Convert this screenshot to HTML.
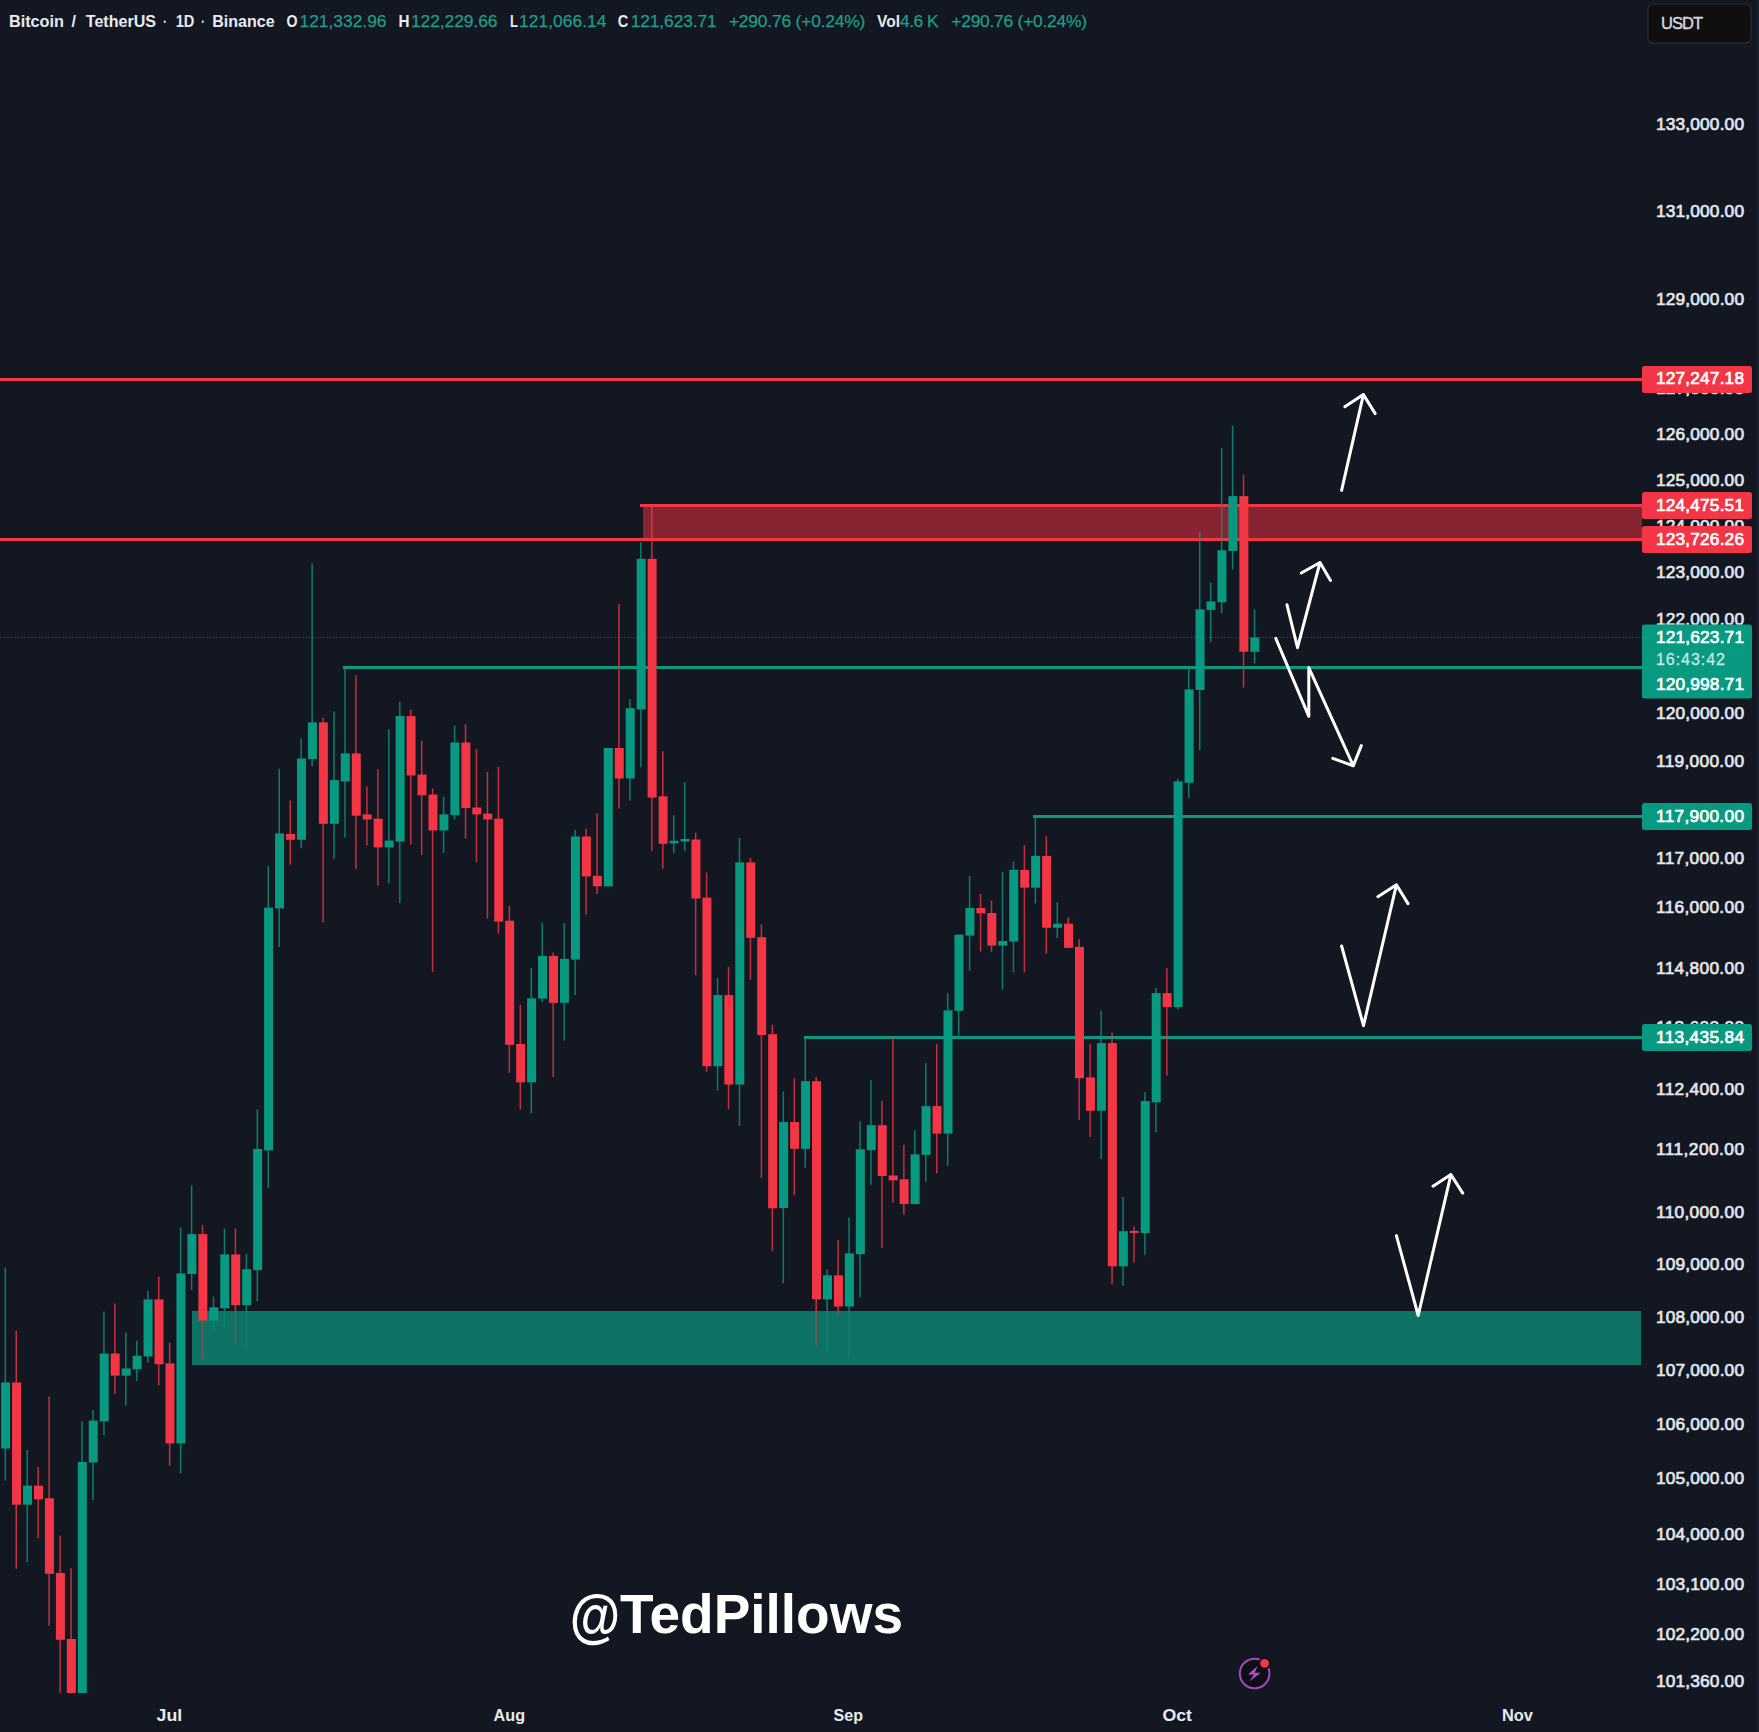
<!DOCTYPE html><html><head><meta charset="utf-8"><title>BTCUSDT chart</title><style>html,body{margin:0;padding:0;background:#131722;}body{width:1759px;height:1732px;overflow:hidden;}svg{display:block;}text{font-family:"Liberation Sans",sans-serif;}</style></head><body>
<svg width="1759" height="1732" viewBox="0 0 1759 1732">
<rect width="1759" height="1732" fill="#131722"/>
<rect x="1757" y="0" width="2" height="1732" fill="#1b1f2d"/>
<g shape-rendering="crispEdges">
<rect x="192" y="1311" width="1449" height="54" fill="#0e7364"/>
<rect x="643" y="506" width="999" height="33" fill="#872431"/>
<rect x="0" y="378" width="1642" height="3" fill="#f23645"/>
<rect x="640" y="504" width="1002" height="3" fill="#f23645"/>
<rect x="0" y="538" width="1642" height="3" fill="#f23645"/>
<rect x="342.5" y="666.4" width="1299.5" height="3" fill="#089981"/>
<rect x="1033.2" y="814.6" width="609" height="3" fill="#089981"/>
<rect x="804" y="1036" width="838" height="3" fill="#089981"/>
</g>
<line x1="0" y1="637.5" x2="1642" y2="637.5" stroke="#089981" stroke-width="1" stroke-dasharray="1 2" opacity="0.65"/>
<g>
<rect x="4.55" y="1267.6" width="1.5" height="212.9" fill="#089981" opacity="0.8"/>
<rect x="15.51" y="1330.6" width="1.5" height="238.1" fill="#f23645" opacity="0.8"/>
<rect x="26.47" y="1450.0" width="1.5" height="112.3" fill="#089981" opacity="0.8"/>
<rect x="37.42" y="1467.0" width="1.5" height="71.2" fill="#f23645" opacity="0.8"/>
<rect x="48.38" y="1396.4" width="1.5" height="229.5" fill="#f23645" opacity="0.8"/>
<rect x="59.34" y="1535.7" width="1.5" height="157.3" fill="#f23645" opacity="0.8"/>
<rect x="70.3" y="1568.2" width="1.5" height="124.8" fill="#f23645" opacity="0.8"/>
<rect x="81.26" y="1421.3" width="1.5" height="271.7" fill="#089981" opacity="0.8"/>
<rect x="92.21" y="1409.9" width="1.5" height="90.2" fill="#089981" opacity="0.8"/>
<rect x="103.17" y="1311.6" width="1.5" height="123.7" fill="#089981" opacity="0.8"/>
<rect x="114.13" y="1303.7" width="1.5" height="90.4" fill="#f23645" opacity="0.8"/>
<rect x="125.09" y="1332.4" width="1.5" height="73.2" fill="#089981" opacity="0.8"/>
<rect x="136.05" y="1340.8" width="1.5" height="39.9" fill="#089981" opacity="0.8"/>
<rect x="147.0" y="1290.5" width="1.5" height="71.9" fill="#089981" opacity="0.8"/>
<rect x="157.96" y="1276.5" width="1.5" height="108.8" fill="#f23645" opacity="0.8"/>
<rect x="168.92" y="1342.6" width="1.5" height="123.2" fill="#f23645" opacity="0.8"/>
<rect x="179.88" y="1227.7" width="1.5" height="245.7" fill="#089981" opacity="0.8"/>
<rect x="190.84" y="1185.3" width="1.5" height="104.7" fill="#089981" opacity="0.8"/>
<rect x="201.79" y="1225.2" width="1.5" height="86.0" fill="#f23645" opacity="0.8"/>
<rect x="201.79" y="1311.2" width="1.5" height="47.4" fill="#f23645" opacity="0.44"/>
<rect x="212.75" y="1296.3" width="1.5" height="14.9" fill="#089981" opacity="0.8"/>
<rect x="212.75" y="1311.2" width="1.5" height="19.8" fill="#089981" opacity="0.44"/>
<rect x="223.71" y="1228.3" width="1.5" height="82.9" fill="#089981" opacity="0.8"/>
<rect x="223.71" y="1311.2" width="1.5" height="16.1" fill="#089981" opacity="0.44"/>
<rect x="234.67" y="1228.3" width="1.5" height="82.9" fill="#f23645" opacity="0.8"/>
<rect x="234.67" y="1311.2" width="1.5" height="32.1" fill="#f23645" opacity="0.44"/>
<rect x="245.63" y="1253.9" width="1.5" height="57.3" fill="#089981" opacity="0.8"/>
<rect x="245.63" y="1311.2" width="1.5" height="37.8" fill="#089981" opacity="0.44"/>
<rect x="256.58" y="1109.6" width="1.5" height="191.8" fill="#089981" opacity="0.8"/>
<rect x="267.54" y="866.0" width="1.5" height="321.9" fill="#089981" opacity="0.8"/>
<rect x="278.5" y="768.7" width="1.5" height="178.3" fill="#089981" opacity="0.8"/>
<rect x="289.46" y="800.4" width="1.5" height="64.3" fill="#f23645" opacity="0.8"/>
<rect x="300.42" y="738.9" width="1.5" height="109.3" fill="#089981" opacity="0.8"/>
<rect x="311.37" y="563.4" width="1.5" height="202.7" fill="#089981" opacity="0.8"/>
<rect x="322.33" y="717.8" width="1.5" height="204.6" fill="#f23645" opacity="0.8"/>
<rect x="333.29" y="711.5" width="1.5" height="147.4" fill="#089981" opacity="0.8"/>
<rect x="344.25" y="667.0" width="1.5" height="170.3" fill="#089981" opacity="0.8"/>
<rect x="355.21" y="675.2" width="1.5" height="193.8" fill="#f23645" opacity="0.8"/>
<rect x="366.16" y="786.4" width="1.5" height="59.2" fill="#f23645" opacity="0.8"/>
<rect x="377.12" y="769.4" width="1.5" height="116.1" fill="#f23645" opacity="0.8"/>
<rect x="388.08" y="729.3" width="1.5" height="154.2" fill="#089981" opacity="0.8"/>
<rect x="399.04" y="701.8" width="1.5" height="201.5" fill="#089981" opacity="0.8"/>
<rect x="410.0" y="709.7" width="1.5" height="134.7" fill="#f23645" opacity="0.8"/>
<rect x="420.95" y="740.7" width="1.5" height="114.3" fill="#f23645" opacity="0.8"/>
<rect x="431.91" y="788.5" width="1.5" height="183.4" fill="#f23645" opacity="0.8"/>
<rect x="442.87" y="796.6" width="1.5" height="56.4" fill="#089981" opacity="0.8"/>
<rect x="453.83" y="725.5" width="1.5" height="94.0" fill="#089981" opacity="0.8"/>
<rect x="464.79" y="724.2" width="1.5" height="114.3" fill="#f23645" opacity="0.8"/>
<rect x="475.74" y="749.1" width="1.5" height="113.1" fill="#f23645" opacity="0.8"/>
<rect x="486.7" y="772.0" width="1.5" height="146.6" fill="#f23645" opacity="0.8"/>
<rect x="497.66" y="766.9" width="1.5" height="166.9" fill="#f23645" opacity="0.8"/>
<rect x="508.62" y="905.8" width="1.5" height="167.0" fill="#f23645" opacity="0.8"/>
<rect x="519.58" y="1004.7" width="1.5" height="104.9" fill="#f23645" opacity="0.8"/>
<rect x="530.53" y="968.0" width="1.5" height="145.4" fill="#089981" opacity="0.8"/>
<rect x="541.49" y="922.7" width="1.5" height="79.7" fill="#089981" opacity="0.8"/>
<rect x="552.45" y="952.5" width="1.5" height="124.5" fill="#f23645" opacity="0.8"/>
<rect x="563.41" y="922.9" width="1.5" height="117.6" fill="#089981" opacity="0.8"/>
<rect x="574.37" y="829.9" width="1.5" height="165.1" fill="#089981" opacity="0.8"/>
<rect x="585.32" y="828.6" width="1.5" height="85.9" fill="#f23645" opacity="0.8"/>
<rect x="596.28" y="813.4" width="1.5" height="80.6" fill="#f23645" opacity="0.8"/>
<rect x="607.24" y="748.0" width="1.5" height="138.4" fill="#089981" opacity="0.8"/>
<rect x="618.2" y="604.0" width="1.5" height="204.5" fill="#f23645" opacity="0.8"/>
<rect x="629.16" y="699.0" width="1.5" height="101.6" fill="#089981" opacity="0.8"/>
<rect x="640.11" y="542.2" width="1.5" height="224.9" fill="#089981" opacity="0.8"/>
<rect x="651.07" y="505.4" width="1.5" height="345.5" fill="#f23645" opacity="0.8"/>
<rect x="662.03" y="751.3" width="1.5" height="117.4" fill="#f23645" opacity="0.8"/>
<rect x="672.99" y="815.4" width="1.5" height="37.6" fill="#089981" opacity="0.8"/>
<rect x="683.95" y="782.3" width="1.5" height="68.6" fill="#089981" opacity="0.8"/>
<rect x="694.9" y="832.6" width="1.5" height="142.7" fill="#f23645" opacity="0.8"/>
<rect x="705.86" y="872.5" width="1.5" height="199.3" fill="#f23645" opacity="0.8"/>
<rect x="716.82" y="977.8" width="1.5" height="112.6" fill="#089981" opacity="0.8"/>
<rect x="727.78" y="966.9" width="1.5" height="142.5" fill="#f23645" opacity="0.8"/>
<rect x="738.74" y="837.7" width="1.5" height="288.2" fill="#089981" opacity="0.8"/>
<rect x="749.69" y="857.8" width="1.5" height="122.0" fill="#f23645" opacity="0.8"/>
<rect x="760.65" y="924.5" width="1.5" height="253.3" fill="#f23645" opacity="0.8"/>
<rect x="771.61" y="1024.8" width="1.5" height="226.1" fill="#f23645" opacity="0.8"/>
<rect x="782.57" y="1091.4" width="1.5" height="191.7" fill="#089981" opacity="0.8"/>
<rect x="793.53" y="1078.2" width="1.5" height="117.1" fill="#f23645" opacity="0.8"/>
<rect x="804.48" y="1037.5" width="1.5" height="130.4" fill="#089981" opacity="0.8"/>
<rect x="815.44" y="1076.9" width="1.5" height="234.3" fill="#f23645" opacity="0.8"/>
<rect x="815.44" y="1311.2" width="1.5" height="35.1" fill="#f23645" opacity="0.44"/>
<rect x="826.4" y="1269.3" width="1.5" height="41.9" fill="#089981" opacity="0.8"/>
<rect x="826.4" y="1311.2" width="1.5" height="40.9" fill="#089981" opacity="0.44"/>
<rect x="837.36" y="1240.0" width="1.5" height="71.2" fill="#f23645" opacity="0.8"/>
<rect x="837.36" y="1311.2" width="1.5" height="3.8" fill="#f23645" opacity="0.44"/>
<rect x="848.32" y="1217.5" width="1.5" height="93.7" fill="#089981" opacity="0.8"/>
<rect x="848.32" y="1311.2" width="1.5" height="47.6" fill="#089981" opacity="0.44"/>
<rect x="859.27" y="1121.4" width="1.5" height="175.7" fill="#089981" opacity="0.8"/>
<rect x="870.23" y="1080.2" width="1.5" height="104.5" fill="#089981" opacity="0.8"/>
<rect x="881.19" y="1101.0" width="1.5" height="147.0" fill="#f23645" opacity="0.8"/>
<rect x="892.15" y="1037.5" width="1.5" height="165.1" fill="#f23645" opacity="0.8"/>
<rect x="903.11" y="1144.7" width="1.5" height="70.0" fill="#f23645" opacity="0.8"/>
<rect x="914.06" y="1130.3" width="1.5" height="73.8" fill="#089981" opacity="0.8"/>
<rect x="925.02" y="1062.9" width="1.5" height="118.7" fill="#089981" opacity="0.8"/>
<rect x="935.98" y="1043.9" width="1.5" height="129.5" fill="#f23645" opacity="0.8"/>
<rect x="946.94" y="993.1" width="1.5" height="172.7" fill="#089981" opacity="0.8"/>
<rect x="957.9" y="934.6" width="1.5" height="100.9" fill="#089981" opacity="0.8"/>
<rect x="968.85" y="875.7" width="1.5" height="95.1" fill="#089981" opacity="0.8"/>
<rect x="979.81" y="893.7" width="1.5" height="58.0" fill="#f23645" opacity="0.8"/>
<rect x="990.77" y="900.5" width="1.5" height="51.2" fill="#f23645" opacity="0.8"/>
<rect x="1001.73" y="871.9" width="1.5" height="117.4" fill="#089981" opacity="0.8"/>
<rect x="1012.69" y="861.7" width="1.5" height="110.6" fill="#089981" opacity="0.8"/>
<rect x="1023.64" y="845.2" width="1.5" height="127.1" fill="#f23645" opacity="0.8"/>
<rect x="1034.6" y="816.5" width="1.5" height="87.2" fill="#089981" opacity="0.8"/>
<rect x="1045.56" y="836.3" width="1.5" height="117.4" fill="#f23645" opacity="0.8"/>
<rect x="1056.52" y="902.4" width="1.5" height="35.6" fill="#089981" opacity="0.8"/>
<rect x="1067.48" y="917.4" width="1.5" height="30.5" fill="#f23645" opacity="0.8"/>
<rect x="1078.43" y="939.2" width="1.5" height="180.9" fill="#f23645" opacity="0.8"/>
<rect x="1089.39" y="1043.9" width="1.5" height="93.2" fill="#f23645" opacity="0.8"/>
<rect x="1100.35" y="1010.9" width="1.5" height="148.1" fill="#089981" opacity="0.8"/>
<rect x="1111.31" y="1032.5" width="1.5" height="252.0" fill="#f23645" opacity="0.8"/>
<rect x="1122.27" y="1197.0" width="1.5" height="88.8" fill="#089981" opacity="0.8"/>
<rect x="1133.22" y="1226.5" width="1.5" height="36.0" fill="#f23645" opacity="0.8"/>
<rect x="1144.18" y="1092.2" width="1.5" height="162.8" fill="#089981" opacity="0.8"/>
<rect x="1155.14" y="988.0" width="1.5" height="144.3" fill="#089981" opacity="0.8"/>
<rect x="1166.1" y="968.2" width="1.5" height="107.5" fill="#f23645" opacity="0.8"/>
<rect x="1177.06" y="778.9" width="1.5" height="230.7" fill="#089981" opacity="0.8"/>
<rect x="1188.01" y="668.4" width="1.5" height="129.6" fill="#089981" opacity="0.8"/>
<rect x="1198.97" y="531.7" width="1.5" height="218.5" fill="#089981" opacity="0.8"/>
<rect x="1209.93" y="582.5" width="1.5" height="59.7" fill="#089981" opacity="0.8"/>
<rect x="1220.89" y="448.1" width="1.5" height="165.1" fill="#089981" opacity="0.8"/>
<rect x="1231.85" y="425.7" width="1.5" height="143.6" fill="#089981" opacity="0.8"/>
<rect x="1242.8" y="474.8" width="1.5" height="212.6" fill="#f23645" opacity="0.8"/>
<rect x="1253.76" y="609.4" width="1.5" height="53.9" fill="#089981" opacity="0.8"/>
<rect x="1.1" y="1382.5" width="9" height="66.0" fill="#089981"/>
<rect x="12.06" y="1382.5" width="9" height="122.2" fill="#f23645"/>
<rect x="23.02" y="1485.6" width="9" height="19.1" fill="#089981"/>
<rect x="33.97" y="1485.6" width="9" height="13.7" fill="#f23645"/>
<rect x="44.93" y="1498.3" width="9" height="75.5" fill="#f23645"/>
<rect x="55.89" y="1573.0" width="9" height="66.8" fill="#f23645"/>
<rect x="66.85" y="1639.0" width="9" height="54.0" fill="#f23645"/>
<rect x="77.81" y="1462.0" width="9" height="231.0" fill="#089981"/>
<rect x="88.76" y="1420.6" width="9" height="41.9" fill="#089981"/>
<rect x="99.72" y="1353.5" width="9" height="67.8" fill="#089981"/>
<rect x="110.68" y="1353.5" width="9" height="22.1" fill="#f23645"/>
<rect x="121.64" y="1368.5" width="9" height="7.1" fill="#089981"/>
<rect x="132.6" y="1355.8" width="9" height="13.4" fill="#089981"/>
<rect x="143.55" y="1299.4" width="9" height="57.1" fill="#089981"/>
<rect x="154.51" y="1299.4" width="9" height="64.8" fill="#f23645"/>
<rect x="165.47" y="1363.4" width="9" height="80.0" fill="#f23645"/>
<rect x="176.43" y="1273.5" width="9" height="169.9" fill="#089981"/>
<rect x="187.39" y="1234.1" width="9" height="39.9" fill="#089981"/>
<rect x="198.34" y="1234.1" width="9" height="86.4" fill="#f23645"/>
<rect x="209.3" y="1307.3" width="9" height="13.2" fill="#089981"/>
<rect x="220.26" y="1254.4" width="9" height="53.9" fill="#089981"/>
<rect x="231.22" y="1254.4" width="9" height="50.8" fill="#f23645"/>
<rect x="242.18" y="1269.2" width="9" height="36.0" fill="#089981"/>
<rect x="253.13" y="1149.0" width="9" height="121.2" fill="#089981"/>
<rect x="264.09" y="907.6" width="9" height="242.7" fill="#089981"/>
<rect x="275.05" y="833.4" width="9" height="75.0" fill="#089981"/>
<rect x="286.01" y="834.0" width="9" height="5.8" fill="#f23645"/>
<rect x="296.97" y="758.5" width="9" height="81.3" fill="#089981"/>
<rect x="307.92" y="722.4" width="9" height="36.6" fill="#089981"/>
<rect x="318.88" y="722.4" width="9" height="101.4" fill="#f23645"/>
<rect x="329.84" y="780.1" width="9" height="43.7" fill="#089981"/>
<rect x="340.8" y="753.4" width="9" height="28.0" fill="#089981"/>
<rect x="351.76" y="753.4" width="9" height="62.3" fill="#f23645"/>
<rect x="362.71" y="814.4" width="9" height="5.1" fill="#f23645"/>
<rect x="373.67" y="818.7" width="9" height="28.7" fill="#f23645"/>
<rect x="384.63" y="840.6" width="9" height="6.8" fill="#089981"/>
<rect x="395.59" y="716.1" width="9" height="125.5" fill="#089981"/>
<rect x="406.55" y="716.1" width="9" height="59.4" fill="#f23645"/>
<rect x="417.5" y="774.5" width="9" height="20.8" fill="#f23645"/>
<rect x="428.46" y="794.6" width="9" height="35.8" fill="#f23645"/>
<rect x="439.42" y="814.4" width="9" height="16.0" fill="#089981"/>
<rect x="450.38" y="742.5" width="9" height="72.7" fill="#089981"/>
<rect x="461.34" y="742.5" width="9" height="65.5" fill="#f23645"/>
<rect x="472.29" y="807.5" width="9" height="6.9" fill="#f23645"/>
<rect x="483.25" y="813.6" width="9" height="5.9" fill="#f23645"/>
<rect x="494.21" y="818.7" width="9" height="102.9" fill="#f23645"/>
<rect x="505.17" y="920.7" width="9" height="124.1" fill="#f23645"/>
<rect x="516.13" y="1044.0" width="9" height="38.4" fill="#f23645"/>
<rect x="527.08" y="998.3" width="9" height="84.1" fill="#089981"/>
<rect x="538.04" y="955.9" width="9" height="42.7" fill="#089981"/>
<rect x="549.0" y="955.9" width="9" height="47.0" fill="#f23645"/>
<rect x="559.96" y="958.9" width="9" height="43.9" fill="#089981"/>
<rect x="570.92" y="836.5" width="9" height="123.0" fill="#089981"/>
<rect x="581.87" y="836.5" width="9" height="39.9" fill="#f23645"/>
<rect x="592.83" y="875.8" width="9" height="10.5" fill="#f23645"/>
<rect x="603.79" y="748.0" width="9" height="138.4" fill="#089981"/>
<rect x="614.75" y="748.0" width="9" height="30.5" fill="#f23645"/>
<rect x="625.71" y="708.2" width="9" height="70.3" fill="#089981"/>
<rect x="636.66" y="558.8" width="9" height="150.6" fill="#089981"/>
<rect x="647.62" y="558.8" width="9" height="238.8" fill="#f23645"/>
<rect x="658.58" y="796.3" width="9" height="47.5" fill="#f23645"/>
<rect x="669.54" y="840.8" width="9" height="2.5" fill="#089981"/>
<rect x="680.5" y="839.0" width="9" height="2.5" fill="#089981"/>
<rect x="691.45" y="839.5" width="9" height="59.0" fill="#f23645"/>
<rect x="702.41" y="897.6" width="9" height="168.6" fill="#f23645"/>
<rect x="713.37" y="995.1" width="9" height="71.1" fill="#089981"/>
<rect x="724.33" y="995.1" width="9" height="89.4" fill="#f23645"/>
<rect x="735.29" y="862.4" width="9" height="222.1" fill="#089981"/>
<rect x="746.24" y="862.4" width="9" height="75.5" fill="#f23645"/>
<rect x="757.2" y="937.2" width="9" height="97.8" fill="#f23645"/>
<rect x="768.16" y="1034.2" width="9" height="174.1" fill="#f23645"/>
<rect x="779.12" y="1122.1" width="9" height="85.9" fill="#089981"/>
<rect x="790.08" y="1122.1" width="9" height="26.7" fill="#f23645"/>
<rect x="801.03" y="1081.2" width="9" height="67.6" fill="#089981"/>
<rect x="811.99" y="1081.2" width="9" height="218.2" fill="#f23645"/>
<rect x="822.95" y="1275.3" width="9" height="24.1" fill="#089981"/>
<rect x="833.91" y="1275.3" width="9" height="31.2" fill="#f23645"/>
<rect x="844.87" y="1253.4" width="9" height="53.1" fill="#089981"/>
<rect x="855.82" y="1149.3" width="9" height="104.9" fill="#089981"/>
<rect x="866.78" y="1125.2" width="9" height="24.9" fill="#089981"/>
<rect x="877.74" y="1125.2" width="9" height="50.8" fill="#f23645"/>
<rect x="888.7" y="1175.5" width="9" height="4.8" fill="#f23645"/>
<rect x="899.66" y="1179.3" width="9" height="24.8" fill="#f23645"/>
<rect x="910.61" y="1154.4" width="9" height="49.7" fill="#089981"/>
<rect x="921.57" y="1106.1" width="9" height="48.8" fill="#089981"/>
<rect x="932.53" y="1106.1" width="9" height="27.5" fill="#f23645"/>
<rect x="943.49" y="1010.3" width="9" height="123.3" fill="#089981"/>
<rect x="954.45" y="934.6" width="9" height="76.2" fill="#089981"/>
<rect x="965.4" y="908.0" width="9" height="27.6" fill="#089981"/>
<rect x="976.36" y="908.0" width="9" height="5.3" fill="#f23645"/>
<rect x="987.32" y="913.0" width="9" height="32.6" fill="#f23645"/>
<rect x="998.28" y="941.0" width="9" height="4.6" fill="#089981"/>
<rect x="1009.24" y="869.9" width="9" height="71.6" fill="#089981"/>
<rect x="1020.19" y="869.9" width="9" height="17.8" fill="#f23645"/>
<rect x="1031.15" y="855.9" width="9" height="31.8" fill="#089981"/>
<rect x="1042.11" y="855.9" width="9" height="71.9" fill="#f23645"/>
<rect x="1053.07" y="923.7" width="9" height="4.1" fill="#089981"/>
<rect x="1064.03" y="923.7" width="9" height="24.2" fill="#f23645"/>
<rect x="1074.98" y="946.9" width="9" height="131.3" fill="#f23645"/>
<rect x="1085.94" y="1077.4" width="9" height="33.3" fill="#f23645"/>
<rect x="1096.9" y="1043.1" width="9" height="67.6" fill="#089981"/>
<rect x="1107.86" y="1043.1" width="9" height="223.2" fill="#f23645"/>
<rect x="1118.82" y="1231.2" width="9" height="35.1" fill="#089981"/>
<rect x="1129.77" y="1230.9" width="9" height="2.0" fill="#f23645"/>
<rect x="1140.73" y="1101.1" width="9" height="132.0" fill="#089981"/>
<rect x="1151.69" y="993.1" width="9" height="109.2" fill="#089981"/>
<rect x="1162.65" y="993.1" width="9" height="14.0" fill="#f23645"/>
<rect x="1173.61" y="781.4" width="9" height="225.7" fill="#089981"/>
<rect x="1184.56" y="689.5" width="9" height="93.2" fill="#089981"/>
<rect x="1195.52" y="609.4" width="9" height="80.6" fill="#089981"/>
<rect x="1206.48" y="601.5" width="9" height="8.4" fill="#089981"/>
<rect x="1217.44" y="550.2" width="9" height="52.1" fill="#089981"/>
<rect x="1228.4" y="496.1" width="9" height="54.9" fill="#089981"/>
<rect x="1239.35" y="496.1" width="9" height="155.7" fill="#f23645"/>
<rect x="1250.31" y="637.4" width="9" height="14.4" fill="#089981"/>
</g>
<path d="M1341.6 490.4 L1363.4 394.6 M1344.8 406.8 L1363.4 394.6 L1375.2 413.6" fill="none" stroke="#ffffff" stroke-width="3" stroke-linecap="round" stroke-linejoin="round"/>
<path d="M1287 604.8 L1297.5 647.7 L1320 562.5 M1301.3 573 L1320 562.5 L1330.5 580.5" fill="none" stroke="#ffffff" stroke-width="3" stroke-linecap="round" stroke-linejoin="round"/>
<path d="M1275.8 638.3 L1308.8 716.3 L1308.8 667.6 L1353.3 765.8 M1332.8 758.3 L1353.3 765.8 L1361.3 745.6" fill="none" stroke="#ffffff" stroke-width="3" stroke-linecap="round" stroke-linejoin="round"/>
<path d="M1341.6 946 L1363.5 1025.7 L1396.4 884.8 M1377.9 896.7 L1396.4 884.8 L1408 903.6" fill="none" stroke="#ffffff" stroke-width="3" stroke-linecap="round" stroke-linejoin="round"/>
<path d="M1396.4 1235.6 L1418.2 1315.5 L1450.9 1174.6 M1433 1186.2 L1450.9 1174.6 L1462.7 1193.1" fill="none" stroke="#ffffff" stroke-width="3" stroke-linecap="round" stroke-linejoin="round"/>
<text x="1656" y="129.7" font-size="17.3" font-weight="normal" fill="#e4e6ec" stroke="#e4e6ec" stroke-width="0.7" textLength="88" lengthAdjust="spacing">133,000.00</text>
<text x="1656" y="217.2" font-size="17.3" font-weight="normal" fill="#e4e6ec" stroke="#e4e6ec" stroke-width="0.7" textLength="88" lengthAdjust="spacing">131,000.00</text>
<text x="1656" y="305.3" font-size="17.3" font-weight="normal" fill="#e4e6ec" stroke="#e4e6ec" stroke-width="0.7" textLength="88" lengthAdjust="spacing">129,000.00</text>
<text x="1656" y="394.3" font-size="17.3" font-weight="normal" fill="#e4e6ec" stroke="#e4e6ec" stroke-width="0.7" textLength="88" lengthAdjust="spacing">127,000.00</text>
<text x="1656" y="440.0" font-size="17.3" font-weight="normal" fill="#e4e6ec" stroke="#e4e6ec" stroke-width="0.7" textLength="88" lengthAdjust="spacing">126,000.00</text>
<text x="1656" y="485.5" font-size="17.3" font-weight="normal" fill="#e4e6ec" stroke="#e4e6ec" stroke-width="0.7" textLength="88" lengthAdjust="spacing">125,000.00</text>
<text x="1656" y="531.8" font-size="17.3" font-weight="normal" fill="#e4e6ec" stroke="#e4e6ec" stroke-width="0.7" textLength="88" lengthAdjust="spacing">124,000.00</text>
<text x="1656" y="577.5" font-size="17.3" font-weight="normal" fill="#e4e6ec" stroke="#e4e6ec" stroke-width="0.7" textLength="88" lengthAdjust="spacing">123,000.00</text>
<text x="1656" y="624.8" font-size="17.3" font-weight="normal" fill="#e4e6ec" stroke="#e4e6ec" stroke-width="0.7" textLength="88" lengthAdjust="spacing">122,000.00</text>
<text x="1656" y="719.1" font-size="17.3" font-weight="normal" fill="#e4e6ec" stroke="#e4e6ec" stroke-width="0.7" textLength="88" lengthAdjust="spacing">120,000.00</text>
<text x="1656" y="767.0" font-size="17.3" font-weight="normal" fill="#e4e6ec" stroke="#e4e6ec" stroke-width="0.7" textLength="88" lengthAdjust="spacing">119,000.00</text>
<text x="1656" y="864.3" font-size="17.3" font-weight="normal" fill="#e4e6ec" stroke="#e4e6ec" stroke-width="0.7" textLength="88" lengthAdjust="spacing">117,000.00</text>
<text x="1656" y="913.0" font-size="17.3" font-weight="normal" fill="#e4e6ec" stroke="#e4e6ec" stroke-width="0.7" textLength="88" lengthAdjust="spacing">116,000.00</text>
<text x="1656" y="973.7" font-size="17.3" font-weight="normal" fill="#e4e6ec" stroke="#e4e6ec" stroke-width="0.7" textLength="88" lengthAdjust="spacing">114,800.00</text>
<text x="1656" y="1032.8" font-size="17.3" font-weight="normal" fill="#e4e6ec" stroke="#e4e6ec" stroke-width="0.7" textLength="88" lengthAdjust="spacing">113,600.00</text>
<text x="1656" y="1094.6" font-size="17.3" font-weight="normal" fill="#e4e6ec" stroke="#e4e6ec" stroke-width="0.7" textLength="88" lengthAdjust="spacing">112,400.00</text>
<text x="1656" y="1155.4" font-size="17.3" font-weight="normal" fill="#e4e6ec" stroke="#e4e6ec" stroke-width="0.7" textLength="88" lengthAdjust="spacing">111,200.00</text>
<text x="1656" y="1217.8" font-size="17.3" font-weight="normal" fill="#e4e6ec" stroke="#e4e6ec" stroke-width="0.7" textLength="88" lengthAdjust="spacing">110,000.00</text>
<text x="1656" y="1269.7" font-size="17.3" font-weight="normal" fill="#e4e6ec" stroke="#e4e6ec" stroke-width="0.7" textLength="88" lengthAdjust="spacing">109,000.00</text>
<text x="1656" y="1322.8" font-size="17.3" font-weight="normal" fill="#e4e6ec" stroke="#e4e6ec" stroke-width="0.7" textLength="88" lengthAdjust="spacing">108,000.00</text>
<text x="1656" y="1376.0" font-size="17.3" font-weight="normal" fill="#e4e6ec" stroke="#e4e6ec" stroke-width="0.7" textLength="88" lengthAdjust="spacing">107,000.00</text>
<text x="1656" y="1430.1" font-size="17.3" font-weight="normal" fill="#e4e6ec" stroke="#e4e6ec" stroke-width="0.7" textLength="88" lengthAdjust="spacing">106,000.00</text>
<text x="1656" y="1484.4" font-size="17.3" font-weight="normal" fill="#e4e6ec" stroke="#e4e6ec" stroke-width="0.7" textLength="88" lengthAdjust="spacing">105,000.00</text>
<text x="1656" y="1539.5" font-size="17.3" font-weight="normal" fill="#e4e6ec" stroke="#e4e6ec" stroke-width="0.7" textLength="88" lengthAdjust="spacing">104,000.00</text>
<text x="1656" y="1589.5" font-size="17.3" font-weight="normal" fill="#e4e6ec" stroke="#e4e6ec" stroke-width="0.7" textLength="88" lengthAdjust="spacing">103,100.00</text>
<text x="1656" y="1639.7" font-size="17.3" font-weight="normal" fill="#e4e6ec" stroke="#e4e6ec" stroke-width="0.7" textLength="88" lengthAdjust="spacing">102,200.00</text>
<text x="1656" y="1686.7" font-size="17.3" font-weight="normal" fill="#e4e6ec" stroke="#e4e6ec" stroke-width="0.7" textLength="88" lengthAdjust="spacing">101,360.00</text>
<rect x="1642" y="366" width="110" height="27" rx="2.5" fill="#f23645"/>
<text x="1656" y="384.2" font-size="17.3" font-weight="normal" fill="#ffffff" stroke="#ffffff" stroke-width="0.7" textLength="88" lengthAdjust="spacing">127,247.18</text>
<rect x="1642" y="492" width="110" height="27" rx="2.5" fill="#f23645"/>
<text x="1656" y="511.1" font-size="17.3" font-weight="normal" fill="#ffffff" stroke="#ffffff" stroke-width="0.7" textLength="88" lengthAdjust="spacing">124,475.51</text>
<rect x="1642" y="526" width="110" height="27" rx="2.5" fill="#f23645"/>
<text x="1656" y="545.3" font-size="17.3" font-weight="normal" fill="#ffffff" stroke="#ffffff" stroke-width="0.7" textLength="88" lengthAdjust="spacing">123,726.26</text>
<rect x="1642" y="624.5" width="110" height="74.0" rx="2.5" fill="#089981"/>
<text x="1656" y="643.0" font-size="17.3" font-weight="normal" fill="#ffffff" stroke="#ffffff" stroke-width="0.7" textLength="88" lengthAdjust="spacing">121,623.71</text>
<text x="1656" y="664.5" font-size="16" fill="#c5e8e0" stroke="#c5e8e0" stroke-width="0.3" textLength="69" lengthAdjust="spacing">16:43:42</text>
<text x="1656" y="690.1" font-size="17.3" font-weight="normal" fill="#ffffff" stroke="#ffffff" stroke-width="0.7" textLength="88" lengthAdjust="spacing">120,998.71</text>
<rect x="1642" y="803" width="110" height="27" rx="2.5" fill="#089981"/>
<text x="1656" y="821.8" font-size="17.3" font-weight="normal" fill="#ffffff" stroke="#ffffff" stroke-width="0.7" textLength="88" lengthAdjust="spacing">117,900.00</text>
<rect x="1642" y="1024" width="110" height="27" rx="2.5" fill="#089981"/>
<text x="1656" y="1043.0" font-size="17.3" font-weight="normal" fill="#ffffff" stroke="#ffffff" stroke-width="0.7" textLength="88" lengthAdjust="spacing">113,435.84</text>
<rect x="1648" y="4" width="103" height="39" rx="5" fill="#0f0f0f" stroke="#2a2e39" stroke-width="1.2"/>
<text x="1661" y="29" font-size="16.5" fill="#d9dbe0" stroke="#d9dbe0" stroke-width="0.35" textLength="42" lengthAdjust="spacing">USDT</text>
<text x="8.9" y="27" font-size="17.4" font-weight="bold" fill="#e9ebf0" textLength="55.1" lengthAdjust="spacingAndGlyphs">Bitcoin</text>
<text x="71.6" y="27" font-size="17.4" font-weight="bold" fill="#e9ebf0" textLength="4.5" lengthAdjust="spacingAndGlyphs">/</text>
<text x="85.8" y="27" font-size="17.4" font-weight="bold" fill="#e9ebf0" textLength="70.2" lengthAdjust="spacingAndGlyphs">TetherUS</text>
<text x="163.3" y="27" font-size="17.4" font-weight="bold" fill="#e9ebf0" textLength="3.5" lengthAdjust="spacingAndGlyphs">·</text>
<text x="175.7" y="27" font-size="17.4" font-weight="bold" fill="#e9ebf0" textLength="18.7" lengthAdjust="spacingAndGlyphs">1D</text>
<text x="201.3" y="27" font-size="17.4" font-weight="bold" fill="#e9ebf0" textLength="3.5" lengthAdjust="spacingAndGlyphs">·</text>
<text x="212.3" y="27" font-size="17.4" font-weight="bold" fill="#e9ebf0" textLength="62.3" lengthAdjust="spacingAndGlyphs">Binance</text>
<text x="286.5" y="27" font-size="17.4" font-weight="bold" fill="#e9ebf0" textLength="11" lengthAdjust="spacingAndGlyphs">O</text>
<text x="299.5" y="27" font-size="17.4" font-weight="normal" stroke="#1e9e88" stroke-width="0.25" fill="#1e9e88" textLength="87" lengthAdjust="spacing">121,332.96</text>
<text x="398.4" y="27" font-size="17.4" font-weight="bold" fill="#e9ebf0" textLength="11" lengthAdjust="spacingAndGlyphs">H</text>
<text x="411" y="27" font-size="17.4" font-weight="normal" stroke="#1e9e88" stroke-width="0.25" fill="#1e9e88" textLength="86.5" lengthAdjust="spacing">122,229.66</text>
<text x="510" y="27" font-size="17.4" font-weight="bold" fill="#e9ebf0" textLength="8" lengthAdjust="spacingAndGlyphs">L</text>
<text x="519" y="27" font-size="17.4" font-weight="normal" stroke="#1e9e88" stroke-width="0.25" fill="#1e9e88" textLength="87.5" lengthAdjust="spacing">121,066.14</text>
<text x="617.7" y="27" font-size="17.4" font-weight="bold" fill="#e9ebf0" textLength="10.5" lengthAdjust="spacingAndGlyphs">C</text>
<text x="630.7" y="27" font-size="17.4" font-weight="normal" stroke="#1e9e88" stroke-width="0.25" fill="#1e9e88" textLength="86" lengthAdjust="spacing">121,623.71</text>
<text x="728.9" y="27" font-size="17.4" font-weight="normal" stroke="#1e9e88" stroke-width="0.25" fill="#1e9e88" textLength="136.4" lengthAdjust="spacing">+290.76 (+0.24%)</text>
<text x="877" y="27" font-size="17.4" font-weight="bold" fill="#e9ebf0" textLength="23" lengthAdjust="spacingAndGlyphs">Vol</text>
<text x="900" y="27" font-size="17.4" font-weight="normal" stroke="#1e9e88" stroke-width="0.25" fill="#1e9e88" textLength="38.7" lengthAdjust="spacing">4.6 K</text>
<text x="951.3" y="27" font-size="17.4" font-weight="normal" stroke="#1e9e88" stroke-width="0.25" fill="#1e9e88" textLength="135.7" lengthAdjust="spacing">+290.76 (+0.24%)</text>
<text x="156.6" y="1721" font-size="17" font-weight="bold" fill="#e9ebf0" textLength="25.6" lengthAdjust="spacingAndGlyphs">Jul</text>
<text x="493.6" y="1721" font-size="17" font-weight="bold" fill="#e9ebf0" textLength="31.4" lengthAdjust="spacingAndGlyphs">Aug</text>
<text x="833.6" y="1721" font-size="17" font-weight="bold" fill="#e9ebf0" textLength="29.4" lengthAdjust="spacingAndGlyphs">Sep</text>
<text x="1162.5" y="1721" font-size="17" font-weight="bold" fill="#e9ebf0" textLength="29.5" lengthAdjust="spacingAndGlyphs">Oct</text>
<text x="1502" y="1721" font-size="17" font-weight="bold" fill="#e9ebf0" textLength="31" lengthAdjust="spacingAndGlyphs">Nov</text>
<text x="569.8" y="1635.6" font-size="59.4" font-weight="bold" fill="#ffffff" textLength="50.5" lengthAdjust="spacingAndGlyphs">@</text>
<text x="620" y="1633.2" font-size="55.5" font-weight="bold" fill="#ffffff" textLength="283" lengthAdjust="spacingAndGlyphs">TedPillows</text>
<circle cx="1254.6" cy="1673.5" r="14.8" fill="#0d0f16" stroke="#ab47bc" stroke-width="2"/>
<path d="M1257.6 1666 L1248 1674.4 L1254 1674.4 L1249.4 1681.6 L1260.6 1672.8 L1254.6 1672.8 Z" fill="#b84fc9"/>
<circle cx="1264.6" cy="1663.3" r="6.2" fill="#0d0f16"/><circle cx="1264.6" cy="1663.3" r="4.4" fill="#f23645"/>
</svg></body></html>
